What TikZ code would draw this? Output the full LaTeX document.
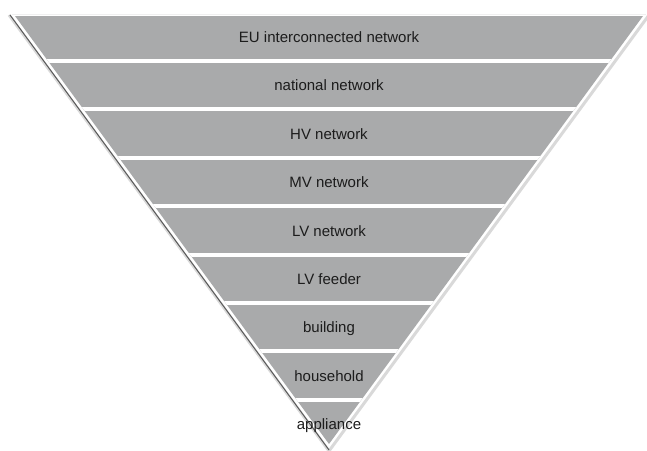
\documentclass[tikz,border=0pt]{standalone}
\usepackage{fontspec}
\setmainfont{Liberation Sans}
\usetikzlibrary{positioning}

\definecolor{bandgray}{RGB}{169,170,171}
\definecolor{labelgray}{RGB}{28,28,28}

\begin{document}
\begin{tikzpicture}[
            x = 1pt, y = -1pt, % pixel units, y grows downwards
            font = \fontsize{15}{18}\selectfont,
            semithick % line style
        ]

        \tikzstyle{band label}=[
            text = labelgray,
            inner sep = 0pt,
            anchor = base
        ]
        \tikzstyle{band gap}=[
            draw = white,
            line width = 4pt
        ]

	\useasboundingbox (0,0) rectangle (647,450);

	\coordinate (tl) at (15,16);
	\coordinate (tr) at (643,16);
	\coordinate (apex) at (329,444);

	% shadow round the funnel
	\draw[gray!12, line width = 1pt] (12,14) -- (646,14);
	\draw[gray!30, line width = 3pt] (9,15) -- (329,451) -- (649,15);
	\draw[gray!70!black, line width = 1pt] (10,15) -- (329,450);

	% the bands
	\fill[bandgray] (tl) -- (tr) -- (apex) -- cycle;
	\begin{scope}
	    \clip (tl) -- (tr) -- (apex) -- cycle;
	    \foreach \k in {1,...,8}
	        \draw[band gap] (0,{61+48.4*(\k-1)}) -- (647,{61+48.4*(\k-1)});
	\end{scope}

	\foreach \name [count=\i] in {EU interconnected network, national network,
	        HV network, MV network, LV network, LV feeder, building,
	        household, appliance}
	    \node[band label] (band\i) at (329,{37+5.4+48.4*(\i-1)}) {\name};

    \end{tikzpicture}
\end{document}
